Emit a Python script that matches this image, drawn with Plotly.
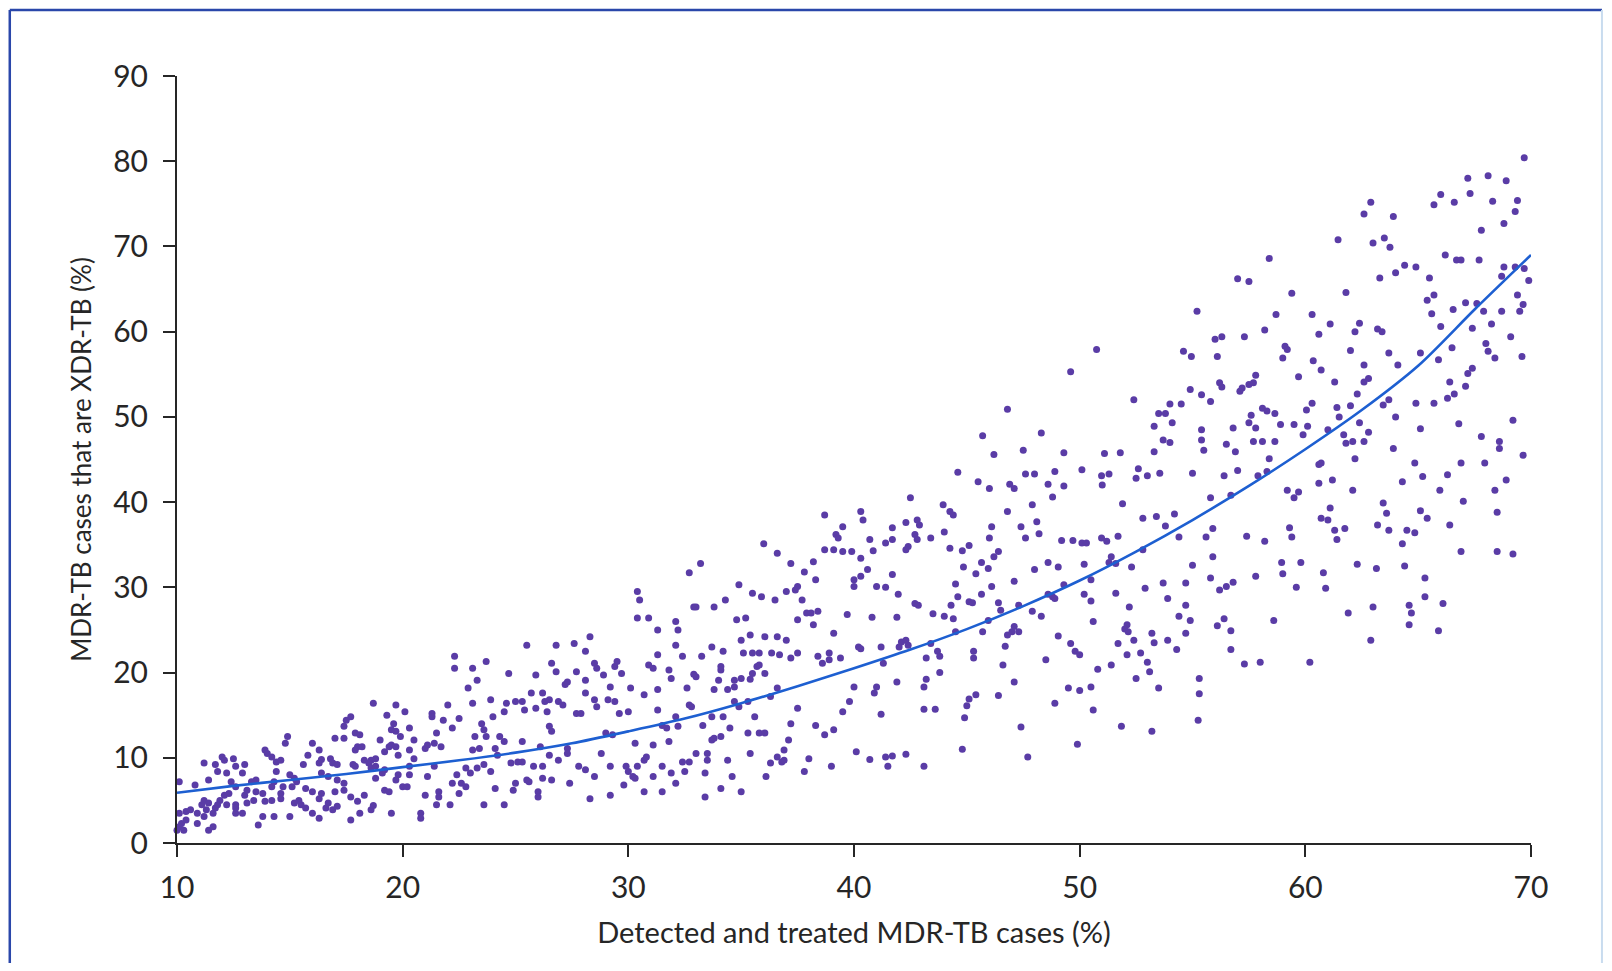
import plotly.graph_objects as go

# ---- fitted curve ----
curve_x = [10, 12.5, 15, 17.5, 20, 22.5, 25, 27.5, 30, 32.5, 35, 37.5, 40,
           42.5, 45, 47.5, 50, 52.5, 55, 57.5, 60, 62.5, 65, 67.5, 70]
curve_y = [5.9, 6.7, 7.4, 8.1, 8.9, 9.7, 10.6, 11.7, 13.1, 14.6, 16.4, 18.4, 20.5,
           22.7, 25.1, 27.8, 30.8, 34.2, 37.9, 41.9, 46.2, 50.8, 56.0, 62.6, 69.0]

# ---- simulation points, grouped by x band (x %, y %) ----
seg_10_20 = [(10.1,7.2),(10.8,6.8),(10.1,3.5),(10.4,3.7),(10.6,3.9),(10.0,1.5),(10.2,2.3),(10.4,2.7),(10.1,1.9),(10.3,1.5),
(10.9,2.3),(11.4,1.5),(11.6,1.9),(11.2,9.4),(11.7,9.2),(11.4,7.4),(12.0,10.1),(12.1,9.7),(12.5,9.9),(11.8,8.4),
(12.2,8.2),(12.6,9.0),(13.0,9.2),(12.9,8.2),(12.4,7.2),(12.6,6.6),(12.3,5.8),(12.1,5.6),(11.9,5.0),(11.2,5.0),
(11.1,4.5),(11.4,4.7),(11.7,4.1),(11.8,4.5),(11.3,3.9),(10.9,3.5),(11.2,3.1),(11.6,3.5),(12.2,4.5),(12.6,4.5),
(13.0,5.6),(13.3,7.2),(13.5,7.4),(13.1,6.2),(13.5,6.0),(13.4,5.0),(13.8,5.8),(13.1,4.7),(12.9,3.5),(12.6,3.5),
(12.6,4.1),(13.8,3.1),(14.3,3.1),(15.0,3.1),(13.6,2.1),(13.9,10.9),(14.0,10.5),(14.2,10.1),(14.4,9.5),(14.6,9.7),
(14.4,8.4),(14.2,6.6),(14.3,7.2),(13.9,4.9),(14.2,5.0),(14.6,5.8),(14.7,6.6),(14.6,5.2),(14.8,11.7),(14.9,12.5),
(15.0,8.0),(15.2,7.6),(15.3,7.2),(15.1,6.6),(15.4,5.0),(15.2,4.7),(15.5,4.5),(15.7,4.1),(16.0,3.5),(16.3,2.9),
(16.0,11.7),(16.3,10.9),(15.8,10.3),(15.6,9.2),(16.3,9.4),(16.4,9.8),(16.8,9.9),(16.9,9.4),(17.1,9.2),(16.4,8.2),
(16.7,7.8),(17.1,7.4),(17.4,7.0),(17.4,6.2),(17.0,6.0),(16.4,5.8),(16.0,6.0),(15.7,6.4),(16.3,5.2),(16.7,4.7),
(16.9,3.9),(17.1,4.3),(16.6,4.1),(17.7,2.7),(18.1,3.5),(18.6,3.9),(18.7,4.4),(18.0,4.9),(17.7,5.4),(18.3,5.6),
(17.0,12.3),(17.4,12.3),(17.5,14.4),(17.7,14.8),(17.4,13.7),(17.9,12.9),(18.1,12.7),(18.0,11.3),(17.9,10.9),(18.2,11.3),
(18.3,9.7),(18.6,9.7),(18.8,9.9),(18.5,9.4),(18.6,8.8),(18.8,9.0),(18.8,7.6),(19.1,8.2),(19.2,8.6),(19.0,12.1),
(19.2,10.7),(19.4,11.3),(19.5,11.5),(19.7,11.3),(19.5,13.3),(19.7,13.1),(19.3,15.0),(19.6,14.0),(19.7,16.2),(18.7,16.4),
(19.8,8.0),(19.7,7.4),(20.0,6.6),(19.2,6.2),(19.4,6.0),(19.5,3.5),(17.8,9.2),(17.9,9.0)]

seg_20_30 = [(20.1,15.4),(19.9,12.5),(19.8,10.3),(20.3,13.5),(20.5,12.1),(20.3,10.9),(20.5,9.9),(20.3,9.0),(20.3,8.0),(20.2,6.6),
(21.0,5.6),(20.8,3.5),(20.8,2.9),(21.1,7.8),(21.4,9.0),(21.0,11.1),(21.1,11.5),(21.4,11.7),(21.7,11.3),(21.3,15.2),
(21.3,14.8),(21.8,14.4),(22.0,16.2),(22.5,14.6),(22.2,13.5),(21.5,12.9),(22.3,21.9),(22.3,20.5),(23.1,20.5),(23.7,21.3),
(23.3,19.1),(22.9,18.2),(23.1,16.4),(23.5,14.0),(23.6,13.3),(23.2,12.5),(23.7,12.5),(23.4,11.1),(23.1,10.9),(24.1,11.1),
(24.0,14.8),(23.9,16.8),(24.6,16.4),(24.5,15.4),(25.0,16.6),(25.3,16.6),(25.4,15.6),(25.9,15.8),(25.3,11.9),(24.3,12.5),
(24.5,11.9),(24.2,10.3),(23.6,9.2),(23.3,8.8),(22.8,8.8),(23.0,8.2),(23.9,8.4),(22.4,8.0),(22.6,7.0),(22.8,6.6),
(22.2,7.0),(21.6,6.0),(21.6,5.4),(21.5,4.5),(22.1,4.5),(22.5,5.8),(23.6,4.5),(24.5,4.5),(24.1,6.4),(25.0,7.0),
(25.5,7.4),(25.6,7.2),(24.9,6.2),(26.0,6.0),(26.0,5.4),(26.2,7.6),(25.8,9.0),(25.3,9.5),(24.8,9.4),(25.1,9.5),
(24.7,19.9),(25.5,23.2),(25.9,19.7),(25.7,17.6),(26.2,17.6),(26.3,16.6),(26.5,16.8),(26.9,16.6),(27.1,16.2),(26.4,15.4),
(26.5,13.7),(26.6,13.1),(26.8,20.1),(26.6,21.1),(26.8,23.2),(27.6,23.4),(28.1,22.5),(28.3,24.2),(28.5,21.1),(28.6,20.5),
(28.9,19.7),(29.4,20.7),(29.5,21.3),(29.7,19.9),(27.7,20.1),(27.3,18.9),(27.2,18.6),(28.1,19.1),(28.1,17.6),(28.5,16.8),
(28.6,16.0),(29.1,16.8),(29.4,16.6),(29.2,18.3),(30.1,18.2),(29.6,15.2),(30.0,15.4),(27.7,15.2),(27.9,15.2),(26.1,11.3),
(26.2,9.0),(26.5,10.3),(26.9,9.7),(27.3,11.1),(27.3,10.5),(26.6,7.4),(27.4,7.0),(27.8,9.0),(28.1,8.6),(28.5,7.8),
(28.3,5.2),(29.2,5.6),(28.8,10.5),(29.2,9.0),(29.9,9.0),(30.0,8.4),(30.2,7.8),(29.8,6.8),(29.0,12.9),(29.3,12.7)]

seg_30_40 = [(30.4,29.5),(30.5,28.5),(30.4,26.4),(30.9,26.4),(31.3,25.0),(32.1,26.0),(32.2,25.0),(32.1,23.2),(31.3,22.1),(30.9,20.9),
(31.1,20.5),(31.8,20.3),(31.9,19.3),(32.4,21.9),(33.0,19.5),(32.9,19.8),(30.7,17.4),(31.3,18.0),(32.6,18.2),(32.7,16.2),
(32.8,16.0),(31.3,15.6),(32.1,14.8),(31.5,13.8),(31.7,13.5),(32.2,13.7),(30.3,11.7),(31.1,11.5),(31.8,11.9),(30.4,9.0),
(30.7,9.7),(30.8,10.1),(30.3,7.6),(31.1,7.8),(31.5,9.0),(31.9,8.2),(32.1,7.0),(32.5,8.4),(32.4,9.5),(32.7,9.5),
(33.0,10.5),(33.5,10.5),(33.5,9.7),(33.4,8.2),(30.7,6.0),(31.5,6.0),(33.4,5.4),(34.1,6.4),(35.0,6.0),(34.6,7.8),
(34.4,9.7),(33.7,12.1),(33.8,12.3),(33.3,13.8),(33.7,14.8),(34.2,14.8),(34.5,13.5),(34.1,12.5),(34.9,16.0),(34.7,16.6),
(35.3,16.6),(35.6,14.8),(35.3,12.9),(35.8,12.9),(36.05,12.9),(35.4,10.5),(36.1,7.8),(36.3,9.4),(36.6,10.1),(36.8,9.5),
(36.9,9.7),(36.9,10.9),(37.1,12.1),(37.2,14.0),(37.5,15.8),(38.0,9.9),(37.8,8.4),(38.3,13.8),(38.7,12.7),(39.1,13.3),
(39.0,9.0),(40.1,10.7),(40.0,18.3),(39.8,16.6),(39.5,15.4),(33.2,32.8),(32.7,31.7),(32.9,27.7),(33.0,27.7),(33.8,27.7),
(34.3,28.5),(34.9,30.3),(35.2,26.4),(34.8,26.2),(35.0,23.8),(35.4,24.4),(36.05,24.2),(36.6,24.2),(37.0,23.8),(36.0,35.1),
(36.6,34.0),(35.5,29.3),(35.9,28.9),(36.5,28.5),(37.2,32.8),(37.8,31.8),(38.2,33.0),(38.3,30.9),(37.7,28.5),(37.5,26.2),
(37.9,27.0),(38.1,27.0),(38.4,27.2),(38.2,25.6),(37.0,29.5),(37.4,29.7),(37.5,30.1),(38.7,34.4),(39.1,34.4),(39.5,34.2),
(39.9,34.2),(39.2,36.2),(39.3,35.8),(39.5,37.1),(38.7,38.5),(40.3,38.9),(40.4,37.9),(39.7,26.8),(39.1,24.6),(40.0,30.9),
(40.0,30.1),(40.3,31.3),(40.2,23.0),(38.9,22.3),(39.4,21.7),(38.9,21.5),(38.4,21.9),(38.6,21.1),(37.5,22.3),(37.2,21.7),
(36.7,22.1),(36.35,22.3),(35.8,22.3),(35.5,22.3),(35.1,22.3),(34.7,19.1),(34.7,18.3),(34.4,18.0),(34.1,20.3),(34.1,20.7),
(34.0,19.1),(33.8,18.0),(33.25,21.9),(33.7,23.0),(34.2,22.5),(35.0,19.3),(35.5,19.9),(35.7,20.7),(35.8,20.9),(35.4,19.2),
(36.6,18.2),(36.3,17.2),(36.05,19.9),(40.3,33.4)]

seg_40_50 = [(49.6,55.3),(46.8,50.9),(45.7,47.8),(48.3,48.1),(46.2,45.6),(47.5,46.1),(49.3,45.8),(44.6,43.5),(48.9,43.6),(50.1,43.8),
(47.6,43.3),(48.0,43.3),(45.5,42.4),(46.0,41.6),(46.9,42.1),(47.1,41.6),(48.6,42.1),(49.3,41.9),(48.8,40.6),(42.5,40.5),
(43.95,39.7),(44.25,38.9),(44.4,38.5),(47.9,39.7),(46.8,38.9),(42.3,37.6),(42.8,37.9),(42.9,37.3),(41.7,37.0),(46.1,37.1),
(47.4,37.1),(48.1,37.7),(40.7,35.6),(41.4,35.2),(41.7,35.6),(42.7,36.2),(42.8,35.6),(42.4,34.8),(42.3,34.4),(43.4,35.8),
(44.0,36.5),(40.85,34.3),(44.25,34.6),(44.8,34.3),(45.1,34.9),(46.0,35.8),(47.6,35.8),(48.2,36.3),(49.2,35.5),(49.7,35.5),
(50.1,35.2),(50.3,35.2),(46.4,34.2),(46.2,33.6),(44.85,32.4),(45.65,32.9),(45.95,32.2),(45.4,31.6),(48.0,32.1),(48.6,32.9),
(49.05,32.4),(50.2,32.7),(40.6,32.1),(41.7,31.5),(41.0,30.1),(41.4,30.0),(44.5,30.4),(46.1,30.1),(47.1,30.7),(49.3,30.3),
(41.96,29.2),(42.7,28.1),(42.85,27.9),(44.3,27.9),(44.6,28.9),(45.1,28.3),(45.25,28.2),(45.65,29.2),(46.4,28.2),(46.5,27.3),
(47.3,27.9),(47.9,27.2),(48.3,26.6),(48.6,29.2),(48.8,28.9),(48.9,28.7),(50.2,29.2),(50.5,28.4),(50.6,26.0),(40.8,26.5),
(41.9,26.5),(43.5,26.9),(44.0,26.6),(44.4,26.3),(45.95,26.1),(45.7,24.8),(44.5,24.8),(46.8,24.4),(47.0,24.8),(47.1,25.4),
(47.3,24.8),(42.1,23.6),(42.3,23.8),(42.4,23.2),(42.0,23.0),(43.4,23.4),(43.7,22.5),(43.8,21.9),(43.2,21.7),(45.3,22.5),
(45.3,21.7),(40.3,22.8),(41.2,23.0),(41.3,21.1),(46.6,20.9),(46.7,23.1),(48.5,21.5),(49.05,24.3),(49.6,23.4),(49.8,22.5),
(50.0,22.1),(41.0,18.3),(40.9,17.6),(41.9,18.9),(43.2,19.2),(43.1,18.3),(43.8,20.0),(47.1,18.9),(45.4,17.4),(45.1,16.9),
(45.0,16.1),(46.4,17.3),(48.9,16.4),(49.5,18.2),(50.0,17.9),(50.5,18.3),(50.6,15.6),(41.2,15.1),(43.1,15.7),(43.6,15.7),
(44.9,14.7),(47.4,13.6),(49.9,11.6),(40.7,9.8),(41.4,10.1),(41.7,10.2),(41.5,9.0),(42.3,10.4),(43.1,9.0),(44.8,11.0),
(47.7,10.1)]

seg_50_60 = [(58.4,68.6),(57.0,66.2),(57.5,65.9),(59.4,64.5),(55.2,62.4),(58.7,62.0),(60.3,62.0),(58.2,60.2),(60.6,59.7),(56.0,59.1),
(56.3,59.4),(57.3,59.4),(50.75,57.9),(54.6,57.7),(54.95,57.1),(56.1,57.1),(59.1,58.3),(59.2,57.9),(59.0,56.9),(60.35,56.6),
(60.7,55.5),(57.8,54.9),(59.7,54.7),(56.2,54.0),(56.3,53.5),(57.1,53.0),(57.2,53.4),(57.5,53.8),(57.7,54.0),(54.9,53.2),
(55.4,52.6),(55.8,51.8),(52.4,52.0),(54.0,51.5),(54.5,51.5),(53.5,50.4),(53.8,50.4),(57.6,50.2),(58.1,51.0),(58.3,50.7),
(58.65,50.4),(60.3,51.6),(60.05,50.8),(53.3,48.9),(54.1,49.3),(57.5,49.3),(57.8,48.7),(58.9,49.1),(59.5,49.1),(60.1,48.9),
(59.9,47.9),(55.4,48.5),(56.8,48.7),(53.7,47.3),(54.0,47.0),(55.4,47.3),(56.5,46.8),(57.7,47.1),(58.1,47.1),(58.65,47.1),
(51.1,45.7),(51.8,45.8),(53.3,45.9),(55.5,46.1),(56.9,45.9),(58.4,45.1),(52.6,43.9),(52.5,42.8),(53.0,43.1),(53.55,43.4),
(55.0,43.4),(56.4,43.1),(57.0,43.7),(57.9,43.1),(58.3,43.6),(50.97,43.1),(51.3,43.3),(51.0,42.0),(60.6,44.4),(60.6,42.2),
(59.2,41.4),(59.7,41.2),(59.5,40.5),(55.8,40.5),(56.7,40.8),(51.9,39.8),(52.8,38.1),(53.4,38.3),(54.2,38.6),(53.8,37.2),
(55.9,36.9),(55.6,35.9),(54.4,35.9),(57.4,36.0),(58.2,35.4),(59.3,37.0),(59.4,35.9),(60.7,38.1),(50.97,35.8),(51.2,35.4),
(51.7,36.0),(51.4,33.6),(51.6,32.8),(52.8,34.4),(52.3,32.4),(55.0,32.6),(55.9,33.6),(50.5,30.9),(51.3,32.9),(51.6,29.3),
(52.9,29.9),(53.7,30.5),(54.7,30.5),(53.9,28.7),(54.7,27.9),(55.8,31.1),(56.2,29.7),(56.5,30.1),(56.8,30.6),(57.8,31.3),
(58.95,32.9),(59.8,32.9),(59.0,31.6),(59.6,30.0),(60.8,31.7),(60.9,29.9),(52.2,27.7),(52.1,25.6),(52.0,25.1),(52.15,24.8),
(53.2,24.6),(54.4,26.6),(54.9,26.1),(54.7,24.6),(56.1,25.5),(56.4,26.3),(56.7,24.9),(58.6,26.1),(51.7,23.4),(52.4,23.8),
(53.3,23.5),(53.9,23.8),(54.3,22.7),(52.1,22.1),(52.7,22.3),(53.0,21.2),(53.1,20.1),(56.7,22.7),(57.3,21.0),(58.0,21.2),
(60.2,21.2),(50.8,20.4),(51.4,20.9),(52.5,19.3),(53.5,18.2),(55.3,19.3),(55.3,17.5),(51.85,13.7),(53.2,13.1),(55.25,14.4)]

seg_60_70 = [(69.7,80.4),(67.2,78.0),(68.1,78.3),(68.9,77.7),(66.0,76.1),(67.3,76.2),(65.7,74.9),(66.6,75.2),(68.3,75.3),(69.4,75.4),
(62.9,75.2),(62.6,73.8),(63.9,73.5),(69.3,74.1),(68.8,72.7),(67.8,71.9),(61.45,70.8),(63.0,70.4),(63.5,71.0),(63.75,69.9),
(66.2,69.0),(66.7,68.4),(66.9,68.4),(67.7,68.4),(64.4,67.8),(64.9,67.6),(68.8,67.6),(69.3,67.6),(69.7,67.4),(63.3,66.3),
(64.0,66.9),(65.5,66.3),(69.9,66.0),(68.7,66.5),(61.8,64.6),(65.7,64.3),(65.4,63.7),(69.4,64.3),(67.1,63.4),(67.6,63.3),
(69.65,63.2),(66.55,62.6),(67.9,62.4),(68.7,62.4),(69.5,62.4),(65.6,62.1),(61.1,60.9),(62.4,61.0),(62.2,60.0),(63.2,60.3),
(63.4,60.0),(66.0,60.6),(67.4,60.4),(68.25,60.9),(69.1,59.4),(68.0,58.6),(68.1,57.7),(68.4,56.9),(66.5,58.1),(63.7,57.5),
(65.1,57.5),(62.0,57.8),(65.9,56.7),(69.6,57.1),(62.6,56.1),(64.1,56.1),(67.4,55.7),(67.2,55.1),(61.3,54.1),(62.6,54.1),
(62.8,54.5),(66.4,54.1),(67.1,53.6),(62.3,52.7),(66.6,52.7),(66.3,52.2),(63.7,52.0),(63.45,51.4),(64.9,51.6),(65.7,51.6),
(61.4,51.1),(62.0,51.3),(61.5,50.0),(64.0,50.0),(69.2,49.6),(66.8,49.2),(61.0,48.5),(62.4,49.3),(62.8,48.2),(65.1,48.6),
(61.7,47.9),(61.8,46.9),(62.1,47.1),(62.6,47.1),(67.8,47.7),(68.6,47.1),(68.6,46.3),(63.9,46.3),(62.2,45.1),(69.65,45.5),
(60.7,44.6),(64.85,44.6),(66.9,44.6),(67.95,44.6),(61.2,42.6),(64.3,42.4),(65.2,43.0),(66.3,43.2),(68.9,42.6),(62.1,41.4),
(65.96,41.4),(68.4,41.4),(63.45,39.9),(67.0,40.1),(63.6,38.7),(65.1,39.0),(65.4,38.1),(68.5,38.8),(61.0,37.9),(61.1,39.3),
(61.3,36.7),(61.75,36.9),(63.2,37.3),(63.7,36.7),(64.5,36.7),(64.85,36.4),(66.4,37.3),(61.4,35.6),(64.3,35.1),(66.9,34.2),
(68.5,34.2),(69.2,33.9),(62.3,32.7),(63.15,32.2),(64.4,32.5),(65.3,31.1),(65.3,28.9),(64.6,27.9),(64.7,27.0),(66.1,28.1),
(63.0,27.7),(61.9,27.0),(64.6,25.6),(65.9,24.9),(62.9,23.8)]

x_ticks = [10, 20, 30, 40, 50, 60, 70]
y_ticks = [0, 10, 20, 30, 40, 50, 60, 70, 80, 90]
x_title = "Detected and treated MDR-TB cases (%)"
y_title = "MDR-TB cases that are XDR-TB (%)"

all_pts = seg_10_20 + seg_20_30 + seg_30_40 + seg_40_50 + seg_50_60 + seg_60_70
pts_x = [p[0] for p in all_pts]
pts_y = [p[1] for p in all_pts]

FONT = "Lato, 'Open Sans', sans-serif"
INK = "#262626"

fig = go.Figure()
fig.add_trace(go.Scatter(
    x=pts_x, y=pts_y, mode="markers", cliponaxis=False,
    marker=dict(size=7, color="#5a3ca6", line=dict(width=0)),
    hoverinfo="skip"))
fig.add_trace(go.Scatter(
    x=curve_x, y=curve_y, mode="lines", cliponaxis=False,
    line=dict(color="#1d5fd1", width=2.6, shape="spline", smoothing=0.8),
    hoverinfo="skip"))

axis_common = dict(
    showline=True, linecolor=INK, linewidth=2,
    ticks="outside", ticklen=12, tickwidth=2, tickcolor=INK,
    showgrid=False, zeroline=False,
    tickfont=dict(family=FONT, size=30, color=INK),
)

fig.update_layout(
    width=1596, height=955,
    margin=dict(l=169, r=73, t=68, b=120),
    paper_bgcolor="white", plot_bgcolor="white",
    showlegend=False,
    xaxis=dict(range=[10, 70], tickvals=x_ticks, ticklabelstandoff=5,
               title=dict(text=x_title, font=dict(family=FONT, size=29, color=INK), standoff=20),
               **axis_common),
    yaxis=dict(range=[0, 90], tickvals=y_ticks, ticklabelstandoff=9,
               title=dict(text=y_title, font=dict(family=FONT, size=26, color=INK), standoff=14),
               **axis_common),
    shapes=[
        dict(type="line", xref="paper", yref="paper", x0=-0.1235, x1=-0.1235, y0=-0.2, y1=1.086,
             line=dict(color="#2a47aa", width=2.5), layer="below"),
        dict(type="line", xref="paper", yref="paper", x0=-0.1235, x1=1.0524, y0=1.086, y1=1.086,
             line=dict(color="#2a47aa", width=2.5), layer="below"),
        dict(type="line", xref="paper", yref="paper", x0=1.0524, x1=1.0524, y0=-0.2, y1=1.086,
             line=dict(color="#c9dcef", width=2), layer="below"),
    ],
)

fig.write_html("out.html")
